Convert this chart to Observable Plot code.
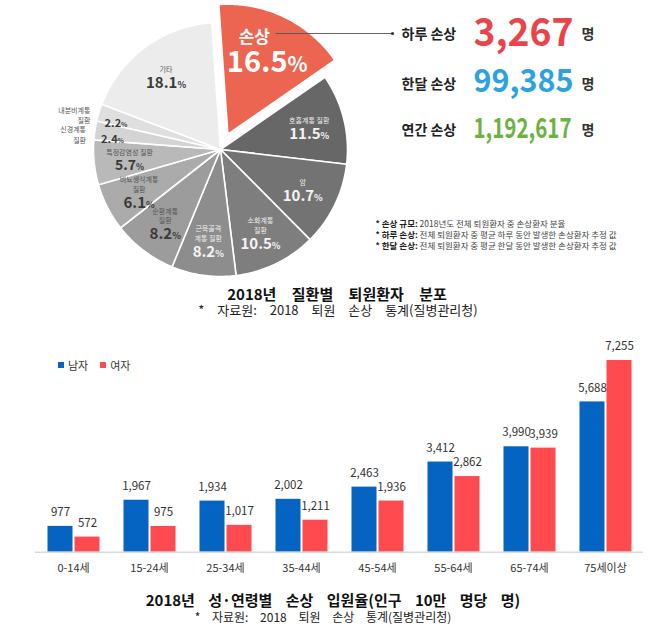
<!DOCTYPE html>
<html><head><meta charset="utf-8">
<script src="https://cdn.jsdelivr.net/npm/d3@7"></script>
<script src="https://cdn.jsdelivr.net/npm/@observablehq/plot@0.6"></script>
<style>
body{margin:0;background:#fff;font-family:"Noto Sans CJK KR","Noto Sans",sans-serif;}
#root{position:relative;width:658px;height:628px;overflow:hidden;background:#fff;}
.ttl{position:absolute;width:658px;text-align:center;white-space:nowrap;color:#111;}
.lg{position:absolute;top:357px;left:58px;font-size:11px;color:#333;display:flex;align-items:center;gap:4px;}
.sq{display:inline-block;width:6px;height:6px;}
</style></head><body><div id="root"></div>
<script>
// ---------- data ----------
const diseases = ["손상","호흡계통 질환","암","소화계통 질환","근육골격계통 질환","순환계통 질환","비뇨생식계통 질환","특정감염성 질환","신경계통 질환","내분비계통 질환","기타"];
const diseaseLabels = ["손상","호흡계통 질환","암","소화계통\n질환","근육골격\n계통 질환","순환계통\n질환","비뇨생식계통\n질환","특정감염성 질환","신경계통\n질환","내분비계통\n질환","기타"];
const diseaseShares = [16.5,11.5,10.7,10.5,8.2,8.2,6.1,5.7,2.4,2.2,18.1];
const injuryLabels = ["하루 손상","한달 손상","연간 손상"];
const injuryCounts = [3267, 99385, 1192617];
const noteTerms = ["손상 규모","하루 손상","한달 손상"];
const noteTexts = ["2018년도 전체 퇴원환자 중 손상환자 분율","전체 퇴원환자 중 평균 하루 동안 발생한 손상환자 추정 값","전체 퇴원환자 중 평균 한달 동안 발생한 손상환자 추정 값"];
const ageGroups = ["0-14세","15-24세","25-34세","35-44세","45-54세","55-64세","65-74세","75세이상"];
const sexes = ["남자","여자"];
const maleRates = [977,1967,1934,2002,2463,3412,3990,5688];
const femaleRates = [572,975,1017,1211,1936,2862,3939,7255];

// ---------- styles / layout ----------
const FONT = '"Noto Sans CJK KR","Noto Sans",sans-serif';
const NARROW = '"Liberation Sans Narrow","Noto Sans CJK KR",sans-serif';
const sliceColors = ["#eb6551","#676767","#737373","#7e7e7e","#8d8d8d","#9c9c9c","#ababab","#b9b9b9","#d4d4d4","#dfdfdf","#ececec"];
const statColors = ["#e8454b","#2da2df","#6bb33f"];
const statSizes = [39,32,28];
const statWidths = [100,100,98];
const statLabelY = [38,88,134];
const statValueY = [45,91,137];
const sexColors = ["#0563c1","#ff4b4f"];
const CX = 220, CY = 149, R = 127, R_EXP = 130, EXPLODE = 17, ROT = -4*Math.PI/180;
const fmt = d3.format(",");

const root = document.getElementById("root");

// ---------- pie geometry ----------
const slices = diseases.map((name,i)=>({name, label: diseaseLabels[i], share: diseaseShares[i], color: sliceColors[i]}));
const arcs = d3.pie().sort(null).value(d=>d.share).startAngle(ROT).endAngle(ROT+2*Math.PI)(slices);
const piePts = [], names = [], values = [], outNames = [];
let hero = null;
arcs.forEach((a,i)=>{
  const d = a.data, exploded = i===0;
  const mid = (a.startAngle+a.endAngle)/2;
  const off = exploded ? EXPLODE : 0;
  const cx = CX + off*Math.sin(mid), cy = CY - off*Math.cos(mid);
  const r = exploded ? R_EXP : R;
  const n = Math.max(2, Math.ceil((a.endAngle-a.startAngle)/(Math.PI/180)));
  piePts.push({name:d.name, x:cx, y:cy});
  for (let k=0;k<=n;k++){ const t=a.startAngle+(a.endAngle-a.startAngle)*k/n; piePts.push({name:d.name, x:cx+r*Math.sin(t), y:cy-r*Math.cos(t)}); }
  piePts.push({name:d.name, x:cx, y:cy});
  const dark = d3.lab(d.color).l < 62;
  const txt = dark ? "#f4f4f4" : "#3a3a3a";
  const ntxt = dark ? "#eeeeee" : "#555";
  if (exploded) {
    const lr = 0.7*r, px = cx+lr*Math.sin(mid), py = cy-lr*Math.cos(mid);
    const top = py - 25;
    hero = {name:d.label, value:d.share+"%", x:px, nameY: top+16, valueY: top+36};
  } else if (d.share < 3) {
    const vr = 0.86*R;
    values.push({text:d.share+"%", x:cx+vr*Math.sin(mid), y:cy-vr*Math.cos(mid)+6, fill:txt, size:11});
    const nr = R+9;
    outNames.push({text:d.label, x:cx+nr*Math.sin(mid), y:cy-nr*Math.cos(mid)+5, fill:"#555"});
  } else {
    const lr = 0.72*R, px = cx+lr*Math.sin(mid), py = cy-lr*Math.cos(mid);
    const nL = d.label.split("\n").length;
    const top = py - (nL*10+18)/2;
    names.push({text:d.label, x:px, y:top+nL*10, fill:ntxt});
    values.push({text:d.share+"%", x:px, y:top+nL*10+11, fill:txt, size: d.share>=6 ? 15 : 14});
  }
});

const stats = injuryLabels.map((l,i)=>({label:l, value:fmt(injuryCounts[i]), ly:statLabelY[i], vy:statValueY[i], color:statColors[i], size:statSizes[i]}));
const notes = noteTerms.map((t,i)=>({text:`* ${t}: ${noteTexts[i]}`, y: 226 + i*11}));
const LABEL_X = 401, VALUE_X = 473, UNIT_X = 581;

const byFill = (arr) => d3.groups(arr, d=>d.fill);

const topMarks = [
  Plot.line(piePts, {x:"x", y:"y", z:"name", fill:"name", stroke:"#fff", strokeWidth:1.6, strokeLinejoin:"round", curve:"linear"}),
];
for (const [f, arr] of byFill(names)) topMarks.push(Plot.text(arr, {x:"x", y:"y", text:"text", fill:f, fontSize:7, lineHeight:1.4, lineAnchor:"bottom"}));
for (const [f, arr] of byFill(values)) topMarks.push(Plot.text(arr, {x:"x", y:"y", text:"text", fill:f, fontSize:d=>d.size, fontWeight:600, lineAnchor:"middle"}));
topMarks.push(Plot.text(outNames, {x:"x", y:"y", text:"text", fill:"#555", fontSize:7, lineHeight:1.5, textAnchor:"end", lineAnchor:"middle"}));
topMarks.push(Plot.text([hero], {x:"x", y:"nameY", text:"name", dx:-13, fill:"#fff", fontSize:17, fontWeight:"bold", lineAnchor:"bottom"}));
topMarks.push(Plot.text([hero], {x:"x", y:"valueY", text:"value", fill:"#fff", fontSize:29, fontWeight:"bold", lineAnchor:"middle"}));
// leader line
topMarks.push(Plot.link([hero], {x1:d=>d.x+8, x2:LABEL_X-9, y1:statLabelY[0]-5, y2:statLabelY[0]-5, stroke:"#555", strokeWidth:0.9}));
topMarks.push(Plot.dot([hero], {x:LABEL_X-9, y:statLabelY[0]-5, r:1.6, fill:"#333", stroke:null}));
// stats
topMarks.push(Plot.text(stats, {x:LABEL_X, y:"ly", text:"label", textAnchor:"start", lineAnchor:"bottom", fontSize:14, fontWeight:"bold", fill:"#222"}));
for (const s of stats) topMarks.push(Plot.text([s], {x:VALUE_X, y:"vy", text:"value", textAnchor:"start", lineAnchor:"bottom", fontSize:s.size, fontWeight:"bold", fontFamily: s.value.length > 7 ? NARROW : FONT, fill:s.color}));
topMarks.push(Plot.text(stats, {x:UNIT_X, y:"ly", text:()=>"명", textAnchor:"start", lineAnchor:"bottom", fontSize:14, fontWeight:"bold", fill:"#333"}));
// notes
topMarks.push(Plot.text(notes, {x:375, y:"y", text:"text", textAnchor:"start", lineAnchor:"bottom", fontSize:8.5, fill:"#444"}));

const svgTop = Plot.plot({
  width:658, height:282, margin:0,
  x:{domain:[0,658], range:[0,658], axis:null},
  y:{domain:[0,282], range:[0,282], axis:null},
  color:{domain:diseases, range:sliceColors},
  style:{fontFamily:FONT, background:"transparent", overflow:"visible"},
  marks: topMarks
});
const statStrings = stats.map(s=>s.value);
d3.select(svgTop).selectAll("text").each(function(){
  const el = d3.select(this); const t = this.textContent;
  let m;
  if (this.childElementCount===0 && (m = /^([\d.]+)%$/.exec(t))) {
    el.text(m[1]);
    el.append("tspan").attr("font-size", t===hero.value ? "0.72em" : "0.6em").text("%");
  } else if (this.childElementCount===0 && t.startsWith("* ")) {
    const idx = t.indexOf(":")+1;
    el.text(null);
    el.append("tspan").attr("font-weight","bold").attr("fill","#222").text(t.slice(0,idx));
    el.append("tspan").text(t.slice(idx));
  } else {
    const k = statStrings.indexOf(t);
    if (k>=0) el.attr("textLength", statWidths[k]).attr("lengthAdjust","spacingAndGlyphs");
  }
});
svgTop.style.position="absolute"; svgTop.style.left="0px"; svgTop.style.top="0px";
root.appendChild(svgTop);

function addText(txt, top, center, size, weight, ws, color){
  const d = document.createElement("div");
  d.className="ttl"; d.textContent = txt;
  d.style.top = top+"px"; d.style.left = (center-329)+"px";
  d.style.fontSize = size+"px"; d.style.lineHeight = size+"px"; d.style.fontWeight = weight;
  d.style.wordSpacing = ws+"px"; d.style.color = color;
  root.appendChild(d);
}
addText("2018년 질환별 퇴원환자 분포", 286, 337, 15, "bold", 12, "#111");
addText("* 자료원: 2018 퇴원 손상 통계(질병관리청)", 303, 338, 13, "normal", 10, "#222");

// ---------- bar chart ----------
const barData = ageGroups.flatMap((a,i)=>[{age:a, sex:sexes[0], rate:maleRates[i]},{age:a, sex:sexes[1], rate:femaleRates[i]}]);
const svgBar = Plot.plot({
  width:658, height:255,
  marginLeft:31.5, marginRight:11.5, marginTop:30, marginBottom:33.3,
  fx:{domain:ageGroups, padding:0, label:null, axis:"bottom", tickSize:0, tickPadding:12},
  x:{domain:sexes, axis:null, paddingInner:0.09, paddingOuter:0.42},
  y:{axis:null, domain:[0, d3.max(barData, d=>d.rate)]},
  color:{domain:sexes, range:sexColors},
  style:{fontFamily:FONT, fontSize:"11px", color:"#333", background:"transparent"},
  marks:[
    Plot.barY(barData, {fx:"age", x:"sex", y:"rate", fill:"sex"}),
    Plot.ruleY([0], {stroke:"#d9d9d9", strokeWidth:1.5}),
    Plot.text(barData, {fx:"age", x:"sex", y:"rate", text:d=>fmt(d.rate), dy:-14, fontSize:11.5, fill:"#333"})
  ]
});
svgBar.style.position="absolute"; svgBar.style.left="0px"; svgBar.style.top="330px";
root.appendChild(svgBar);

// legend
const lg = document.createElement("div"); lg.className="lg";
lg.innerHTML = sexes.map((s,i)=>`<span class="sq" style="background:${sexColors[i]}"></span><span style="margin-right:8px">${s}</span>`).join("");
root.appendChild(lg);

addText("2018년 성·연령별 손상 입원율(인구 10만 명당 명)", 592, 333, 15, "bold", 10, "#111");
addText("* 자료원: 2018 퇴원 손상 통계(질병관리청)", 611, 323, 12, "normal", 9, "#222");
</script></body></html>
